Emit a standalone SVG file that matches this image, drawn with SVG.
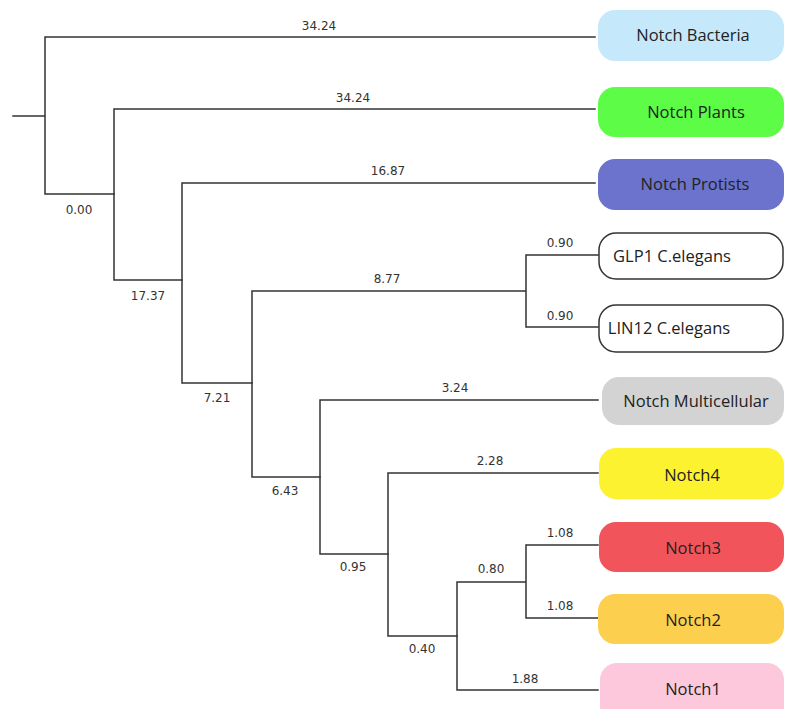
<svg xmlns="http://www.w3.org/2000/svg" width="786" height="709" viewBox="0 0 786 709">
<style>
.br{fill:none;stroke:#333;stroke-width:1.5;stroke-linejoin:miter;stroke-linecap:square}
.bl{font-family:"DejaVu Sans",Verdana,sans-serif;font-size:12px;fill:#333;text-anchor:middle}
.nt{font-family:"Open Sans","Noto Sans",sans-serif;font-size:16.5px;fill:#222;text-anchor:middle}
.wb{fill:#fff;stroke:#333;stroke-width:1.5}
</style>
<rect width="786" height="709" fill="#fff"/>
<g id="connectors">
<path class="br" d="M13 116 H45 M45 37 V194 M45 37 H595 M45 194 H114"/>
<path class="br" d="M114 109 V280 M114 109 H595 M114 280 H182"/>
<path class="br" d="M182 183 V383 M182 183 H595 M182 383 H252"/>
<path class="br" d="M252 291 V477 M252 291 H526 M526 255 V327 M526 255 H598 M526 327 H598 M252 477 H320"/>
<path class="br" d="M320 400 V554 M320 400 H598 M320 554 H388"/>
<path class="br" d="M388 473 V636 M388 473 H598 M388 636 H457"/>
<path class="br" d="M457 582 V690 M457 582 H526 M457 690 H598 M526 545 V618 M526 545 H598 M526 618 H598"/>
<g id="branch-labels">
<text class="bl" x="319" y="30">34.24</text>
<text class="bl" x="79" y="214">0.00</text>
<text class="bl" x="353" y="102">34.24</text>
<text class="bl" x="148" y="300">17.37</text>
<text class="bl" x="388" y="175">16.87</text>
<text class="bl" x="387" y="283">8.77</text>
<text class="bl" x="560" y="247">0.90</text>
<text class="bl" x="560" y="320">0.90</text>
<text class="bl" x="217" y="402">7.21</text>
<text class="bl" x="455" y="392">3.24</text>
<text class="bl" x="285" y="495">6.43</text>
<text class="bl" x="490" y="465">2.28</text>
<text class="bl" x="353" y="571">0.95</text>
<text class="bl" x="560" y="537">1.08</text>
<text class="bl" x="560" y="610">1.08</text>
<text class="bl" x="491" y="573">0.80</text>
<text class="bl" x="422" y="653">0.40</text>
<text class="bl" x="525" y="683">1.88</text>
</g>
</g>
<g id="node-bacteria"><rect x="598" y="10" width="186" height="51" rx="17" fill="#c6e8fb"/><text class="nt" x="693" y="41">Notch Bacteria</text></g>
<g id="node-plants"><rect x="598" y="87" width="186" height="50" rx="17" fill="#5cfc47"/><text class="nt" x="696" y="118">Notch Plants</text></g>
<g id="node-protists"><rect x="598" y="159" width="186" height="51" rx="17" fill="#6b73cc"/><text class="nt" x="695" y="190">Notch Protists</text></g>
<g id="node-glp1"><rect class="wb" x="599" y="233" width="184" height="46" rx="17"/><text class="nt" x="672" y="262">GLP1 C.elegans</text></g>
<g id="node-lin12"><rect class="wb" x="599" y="305" width="184" height="47" rx="17"/><text class="nt" x="669" y="334">LIN12 C.elegans</text></g>
<g id="node-multicellular"><rect x="602" y="377" width="182" height="48" rx="17" fill="#d3d3d3"/><text class="nt" x="696" y="407">Notch Multicellular</text></g>
<g id="node-notch4"><rect x="599" y="448" width="185" height="51" rx="17" fill="#fdf22f"/><text class="nt" x="692" y="481">Notch4</text></g>
<g id="node-notch3"><rect x="599" y="522" width="185" height="50" rx="17" fill="#f2545b"/><text class="nt" x="693" y="554">Notch3</text></g>
<g id="node-notch2"><rect x="598" y="594" width="186" height="50" rx="17" fill="#fdcf4f"/><text class="nt" x="693" y="626">Notch2</text></g>
<g id="node-notch1"><rect x="600" y="663" width="184" height="60" rx="17" fill="#fdc8dc"/><text class="nt" x="693" y="695">Notch1</text></g>
</svg>
